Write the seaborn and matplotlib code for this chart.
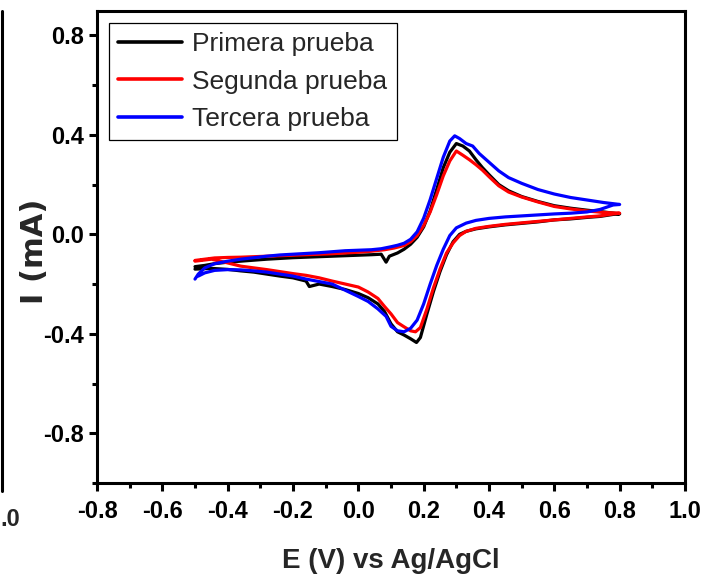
import numpy as np
import pandas as pd
import matplotlib
matplotlib.use("Agg")
import matplotlib.pyplot as plt
from matplotlib.lines import Line2D
import seaborn as sns

# Cyclic voltammograms: forward scan -0.5 -> 0.8 V, then reverse back to -0.5 V
e_primera = [-0.50, -0.47, -0.44, -0.40, -0.36, -0.32, -0.28, -0.24, -0.20, -0.16,
             -0.12, -0.08, -0.04, 0.00, 0.04, 0.07, 0.085, 0.095, 0.12, 0.14,
             0.16, 0.18, 0.20, 0.22, 0.24, 0.26, 0.28, 0.30, 0.32, 0.34,
             0.36, 0.38, 0.40, 0.43, 0.46, 0.50, 0.55, 0.60, 0.65, 0.70,
             0.75, 0.80,
             0.78, 0.74, 0.70, 0.65, 0.60, 0.55, 0.50, 0.45, 0.40, 0.36,
             0.33, 0.31, 0.29, 0.27, 0.25, 0.23, 0.21, 0.19, 0.178, 0.16,
             0.14, 0.12, 0.10, 0.08, 0.06, 0.03, 0.00, -0.04, -0.08, -0.12,
             -0.15, -0.16, -0.20, -0.24, -0.28, -0.32, -0.36, -0.40, -0.45, -0.50]
i_primera = [-0.130, -0.125, -0.118, -0.112, -0.108, -0.104, -0.100, -0.097, -0.094, -0.092,
             -0.090, -0.088, -0.086, -0.084, -0.082, -0.080, -0.112, -0.088, -0.075, -0.060,
             -0.040, -0.012, 0.030, 0.095, 0.180, 0.268, 0.330, 0.365, 0.355, 0.335,
             0.300, 0.268, 0.240, 0.200, 0.175, 0.152, 0.132, 0.115, 0.105, 0.097,
             0.090, 0.082,
             0.080, 0.072, 0.068, 0.062, 0.058, 0.050, 0.044, 0.038, 0.030, 0.022,
             0.012, 0.000, -0.030, -0.082, -0.150, -0.230, -0.320, -0.415, -0.435, -0.420,
             -0.405, -0.392, -0.360, -0.310, -0.280, -0.255, -0.238, -0.222, -0.210, -0.200,
             -0.210, -0.188, -0.175, -0.168, -0.160, -0.152, -0.147, -0.141, -0.137, -0.140]

e_segunda = [-0.50, -0.47, -0.44, -0.40, -0.36, -0.32, -0.28, -0.24, -0.20, -0.16,
             -0.12, -0.08, -0.04, 0.00, 0.04, 0.08, 0.11, 0.14, 0.16, 0.18,
             0.20, 0.22, 0.24, 0.26, 0.28, 0.30, 0.32, 0.34, 0.36, 0.38,
             0.40, 0.43, 0.46, 0.50, 0.55, 0.60, 0.65, 0.70, 0.75, 0.80,
             0.78, 0.74, 0.70, 0.65, 0.60, 0.55, 0.50, 0.45, 0.40, 0.36,
             0.33, 0.31, 0.29, 0.27, 0.25, 0.23, 0.21, 0.19, 0.175, 0.16,
             0.14, 0.12, 0.10, 0.08, 0.06, 0.03, 0.00, -0.04, -0.08, -0.12,
             -0.16, -0.20, -0.24, -0.28, -0.32, -0.36, -0.40, -0.45, -0.50]
i_segunda = [-0.105, -0.100, -0.095, -0.093, -0.092, -0.090, -0.088, -0.086, -0.084, -0.082,
             -0.080, -0.078, -0.075, -0.072, -0.068, -0.062, -0.055, -0.045, -0.030, -0.005,
             0.035, 0.090, 0.160, 0.235, 0.295, 0.335, 0.318, 0.300, 0.280, 0.258,
             0.232, 0.195, 0.170, 0.150, 0.130, 0.112, 0.102, 0.094, 0.088, 0.085,
             0.082, 0.074, 0.070, 0.064, 0.058, 0.052, 0.046, 0.040, 0.032, 0.024,
             0.012, -0.005, -0.035, -0.075, -0.140, -0.215, -0.300, -0.375, -0.392, -0.388,
             -0.372, -0.355, -0.320, -0.290, -0.258, -0.232, -0.212, -0.200, -0.188, -0.175,
             -0.165, -0.158, -0.150, -0.142, -0.135, -0.128, -0.115, -0.100, -0.108]

e_tercera = [-0.50, -0.49, -0.47, -0.44, -0.40, -0.36, -0.32, -0.28, -0.24, -0.20,
             -0.16, -0.12, -0.08, -0.04, 0.00, 0.04, 0.07, 0.10, 0.12, 0.14,
             0.16, 0.18, 0.20, 0.22, 0.24, 0.26, 0.28, 0.295, 0.31, 0.33,
             0.35, 0.37, 0.40, 0.43, 0.46, 0.50, 0.55, 0.60, 0.65, 0.70,
             0.75, 0.80,
             0.78, 0.74, 0.70, 0.65, 0.60, 0.55, 0.50, 0.45, 0.40, 0.36,
             0.33, 0.30, 0.28, 0.26, 0.24, 0.22, 0.20, 0.18, 0.16, 0.14,
             0.12, 0.10, 0.085, 0.06, 0.03, 0.00, -0.04, -0.08, -0.12, -0.16,
             -0.20, -0.24, -0.28, -0.32, -0.36, -0.40, -0.44, -0.47, -0.49]
i_tercera = [-0.180, -0.160, -0.135, -0.118, -0.108, -0.100, -0.094, -0.088, -0.083, -0.080,
             -0.077, -0.074, -0.070, -0.066, -0.064, -0.062, -0.058, -0.050, -0.044, -0.036,
             -0.020, 0.010, 0.065, 0.140, 0.225, 0.310, 0.375, 0.396, 0.385, 0.365,
             0.355, 0.325, 0.290, 0.255, 0.228, 0.205, 0.180, 0.162, 0.148, 0.138,
             0.128, 0.120,
             0.118, 0.100, 0.090, 0.085, 0.082, 0.078, 0.074, 0.070, 0.064, 0.056,
             0.045, 0.026, -0.005, -0.060, -0.125, -0.200, -0.280, -0.345, -0.378, -0.392,
             -0.388, -0.370, -0.330, -0.300, -0.270, -0.250, -0.225, -0.200, -0.190, -0.180,
             -0.168, -0.160, -0.152, -0.147, -0.143, -0.142, -0.145, -0.155, -0.168]

labels = ["Primera prueba", "Segunda prueba", "Tercera prueba"]
colors = ["#000000", "#ff0000", "#0000ff"]

x_major = [-0.8, -0.6, -0.4, -0.2, 0.0, 0.2, 0.4, 0.6, 0.8, 1.0]
x_major_labels = ["-0.8", "-0.6", "-0.4", "-0.2", "0.0", "0.2", "0.4", "0.6", "0.8", "1.0"]
x_minor = [-0.7, -0.5, -0.3, -0.1, 0.1, 0.3, 0.5, 0.7, 0.9]
y_major = [-0.8, -0.4, 0.0, 0.4, 0.8]
y_major_labels = ["-0.8", "-0.4", "0.0", "0.4", "0.8"]
y_minor = [-1.0, -0.6, -0.2, 0.2, 0.6]

frames = []
for name, e, i in zip(labels,
                      [e_primera, e_segunda, e_tercera],
                      [i_primera, i_segunda, i_tercera]):
    frames.append(pd.DataFrame({"E": e, "I": i, "Ensayo": name}))
df = pd.concat(frames, ignore_index=True)

sns.set_style("white")
plt.rcParams["font.family"] = ["Liberation Sans", "DejaVu Sans"]

W, H = 718, 581
fig = plt.figure(figsize=(W / 100, H / 100), dpi=100)
ax = fig.add_axes([97 / W, (H - 483) / H, 588 / W, 472.5 / H])

sns.lineplot(data=df, x="E", y="I", hue="Ensayo",
             palette=dict(zip(labels, colors)), sort=False, estimator=None,
             linewidth=2.3, ax=ax)

ax.set_xlim(-0.8, 1.0)
ax.set_ylim(-1.0, 0.9)
ax.set_xticks(x_major, x_major_labels)
ax.set_xticks(x_minor, minor=True)
ax.set_yticks(y_major, y_major_labels)
ax.set_yticks(y_minor, minor=True)

for s in ax.spines.values():
    s.set_visible(True)
    s.set_linewidth(2.2)
    s.set_color("black")

ax.tick_params(axis="both", which="major", direction="out", length=5.5, width=2.2,
               colors="black", labelsize=17, bottom=True, left=True, top=False, right=False)
ax.tick_params(axis="both", which="minor", direction="out", length=3.5, width=2.2,
               colors="black", bottom=True, left=True, top=False, right=False)
ax.tick_params(axis="x", which="major", pad=6.5)
ax.tick_params(axis="y", which="major", pad=4)
for lab in ax.get_xticklabels() + ax.get_yticklabels():
    lab.set_fontweight("bold")

ax.set_xlabel("E (V) vs Ag/AgCl", fontsize=20, fontweight="bold", labelpad=18)
ax.set_ylabel("I (mA)", fontsize=22, fontweight="bold", family=["DejaVu Sans"])
ax.yaxis.set_label_coords(-0.082, 0.49)

handles, labs = ax.get_legend_handles_labels()
leg = ax.legend(handles, labs, loc="upper left",
                bbox_to_anchor=((109 - 97) / 588, (483 - 23) / 472.5),
                borderaxespad=0, fontsize=19, frameon=True, fancybox=False,
                framealpha=1, edgecolor="black", handlelength=2.4,
                handletextpad=0.4, labelspacing=0.5, borderpad=0.36)
leg.get_frame().set_linewidth(0.9)
for h in leg.get_lines():
    h.set_linewidth(2.6)

# edge of the neighbouring panel on the left
fig.add_artist(Line2D([2 / W, 2 / W], [(H - 10.5) / H, (H - 491) / H],
                      color="black", linewidth=2.2, transform=fig.transFigure))
fig.text(0, (H - 519) / H, ".0", ha="left", va="center",
         fontsize=17, fontweight="bold")

fig.savefig("out.png", dpi=100)
